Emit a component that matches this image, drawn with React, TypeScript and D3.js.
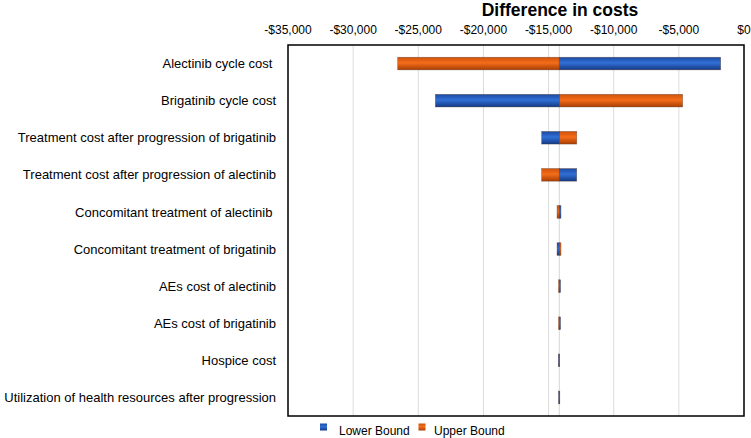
import { scaleBand, scaleLinear } from "d3";

const categories = [
  "Alectinib cycle cost\u00a0",
  "Brigatinib cycle cost",
  "Treatment cost after progression of brigatinib",
  "Treatment cost after progression of alectinib",
  "Concomitant treatment of alectinib\u00a0",
  "Concomitant treatment of brigatinib",
  "AEs cost of alectinib",
  "AEs cost of brigatinib",
  "Hospice cost",
  "Utilization of health resources after progression",
];

// base case difference in costs
const baseCase = -14180;
const lowerBound = [-1790, -23690, -15530, -12840, -14050, -14350, -14080, -14080, -14240, -14230];
const upperBound = [-26580, -4710, -12840, -15530, -14350, -14050, -14230, -14230, -14210, -14200];

const tickValues = [-35000, -30000, -25000, -20000, -15000, -10000, -5000, 0];

const W = 751;
const H = 438;
const left = 288;
const right = 744;
const top = 45;
const bottom = 416;
const font = "'Liberation Sans', Arial, sans-serif";

const fmt = (v: number) =>
  (v < 0 ? "-$" : "$") + Math.abs(v).toLocaleString("en-US");

function Bar({ a, b, y, h, fill }: { a: number; b: number; y: number; h: number; fill: string }) {
  const x0 = Math.min(a, b);
  const w = Math.max(Math.abs(b - a), 0.8);
  return (
    <rect
      x={x0}
      y={y}
      width={w}
      height={h}
      fill={fill}
      stroke="#5a3a2a"
      strokeOpacity={0.6}
      strokeWidth={0.6}
    />
  );
}

export default function App() {
  const x = scaleLinear().domain([-35000, 0]).range([left, right]);
  const y = scaleBand<string>().domain(categories).range([top, bottom]).paddingInner(0.66).paddingOuter(0.33);
  const bh = y.bandwidth();

  return (
    <svg
      width={W}
      height={H}
      style={{ position: "absolute", left: 0, top: 0, background: "#fff" }}
      fontFamily={font}
    >
      <defs>
        <linearGradient id="blue" x1="0" y1="0" x2="0" y2="1">
          <stop offset="0" stopColor="#1b4aa3" />
          <stop offset="0.45" stopColor="#3270d6" />
          <stop offset="1" stopColor="#123985" />
        </linearGradient>
        <linearGradient id="orange" x1="0" y1="0" x2="0" y2="1">
          <stop offset="0" stopColor="#d0520a" />
          <stop offset="0.45" stopColor="#f46d1a" />
          <stop offset="1" stopColor="#a93e04" />
        </linearGradient>
      </defs>

      <text x={560} y={16} textAnchor="middle" fontSize={17.5} fontWeight="bold" fill="#000">
        Difference in costs
      </text>

      {tickValues.map((t) => (
        <g key={t}>
          <line x1={x(t)} x2={x(t)} y1={top} y2={bottom} stroke="#dcdcdc" strokeWidth={1} />
          <text x={x(t)} y={34} textAnchor="middle" fontSize={12} fill="#000">
            {fmt(t)}
          </text>
        </g>
      ))}

      <line x1={x(baseCase)} x2={x(baseCase)} y1={top} y2={bottom} stroke="#d4d4d4" strokeWidth={1} />

      {categories.map((c, i) => {
        const yy = y(c)!;
        return (
          <g key={c}>
            <text
              x={276}
              y={yy + bh / 2}
              dy="0.35em"
              textAnchor="end"
              fontSize={13}
              fill="#000"
              style={{ whiteSpace: "pre" }}
            >
              {c}
            </text>
            <Bar a={x(baseCase)} b={x(upperBound[i])} y={yy} h={bh} fill="url(#orange)" />
            <Bar a={x(baseCase)} b={x(lowerBound[i])} y={yy} h={bh} fill="url(#blue)" />
          </g>
        );
      })}

      <rect x={left} y={top} width={right - left} height={bottom - top} fill="none" stroke="#000" strokeWidth={1.5} />

      <g fontSize={12} fill="#000">
        <rect x={320} y={423.5} width={7} height={7} fill="url(#blue)" />
        <text x={339} y={435}>Lower Bound</text>
        <rect x={418.5} y={423.5} width={7} height={7} fill="url(#orange)" />
        <text x={434} y={435}>Upper Bound</text>
      </g>
    </svg>
  );
}
